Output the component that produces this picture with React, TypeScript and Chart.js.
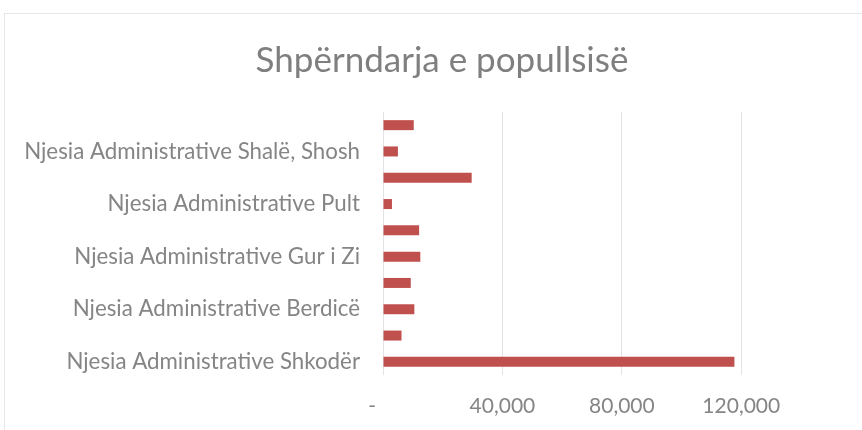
import React, { useEffect, useRef } from "react";
import { Chart, registerables } from "chart.js";

Chart.register(...registerables);

const categories: string[] = [
  "Njesia Administrative Shkodër",
  "Njesia Administrative Ana e Malit",
  "Njesia Administrative Berdicë",
  "Njesia Administrative Dajç",
  "Njesia Administrative Gur i Zi",
  "Njesia Administrative Postribë",
  "Njesia Administrative Pult",
  "Njesia Administrative Rrethinat",
  "Njesia Administrative Shalë, Shosh",
  "Njesia Administrative Velipojë",
];

const population: number[] = [117700, 6200, 10500, 9300, 12500, 12100, 3000, 29700, 5000, 10300];

const xTickValues: number[] = [0, 40000, 80000, 120000];

const title = "Shpërndarja e popullsisë";

const FONT = "Lato, 'Open Sans', sans-serif";

export default function App() {
  const ref = useRef<HTMLCanvasElement | null>(null);

  useEffect(() => {
    const canvas = ref.current;
    if (!canvas) return;
    const chart = new Chart(canvas, {
      type: "bar",
      data: {
        labels: categories,
        datasets: [
          {
            data: population,
            backgroundColor: "#C0504D",
            borderWidth: 0,
            categoryPercentage: 1,
            barPercentage: 0.38,
          },
        ],
      },
      options: {
        indexAxis: "y",
        responsive: false,
        animation: false,
        layout: { padding: { left: 22, right: 0, top: 0, bottom: 0 } },
        plugins: {
          legend: { display: false },
          tooltip: { enabled: false },
          title: {
            display: true,
            text: title,
            color: "#7f7f7f",
            font: { family: FONT, size: 35, weight: "normal" },
            padding: { top: 40, bottom: 30 },
          },
        },
        scales: {
          x: {
            type: "linear",
            min: 0,
            max: 140000,
            border: { display: false },
            grid: { color: "#e3e3e3", drawTicks: false, lineWidth: 1 },
            afterBuildTicks: (scale: any) => {
              scale.ticks = xTickValues.map((v) => ({ value: v }));
            },
            afterFit: (scale: any) => {
              scale.height = 55;
            },
            ticks: {
              color: "#858585",
              padding: 19,
              font: { family: FONT, size: 21 },
              callback: (v: any) => (Number(v) === 0 ? "-    " : Number(v).toLocaleString("en-US")),
            },
          },
          y: {
            reverse: true,
            border: { display: false },
            grid: { display: false },
            afterFit: (scale: any) => {
              scale.width = 361;
            },
            ticks: {
              autoSkip: false,
              color: "#858585",
              padding: 15,
              font: { family: FONT, size: 22.3 },
              callback: (_v: any, i: number) => (i % 2 === 0 ? categories[i] : ""),
            },
          },
          yRight: {
            type: "category",
            position: "right",
            labels: categories,
            border: { display: false },
            grid: { display: false },
            ticks: { display: false },
            afterFit: (scale: any) => {
              scale.width = 61;
            },
          },
        },
      },
    });
    return () => chart.destroy();
  }, []);

  return (
    <div style={{ position: "fixed", left: 0, top: 0, width: 862, height: 430, background: "#fff", overflow: "hidden" }}>
      <div
        style={{
          position: "absolute",
          left: 4,
          top: 13,
          width: 900,
          height: 500,
          border: "1px solid #e6e6e6",
          boxSizing: "border-box",
        }}
      />
      <canvas ref={ref} width={862} height={430} style={{ position: "absolute", left: 0, top: 0 }} />
    </div>
  );
}
